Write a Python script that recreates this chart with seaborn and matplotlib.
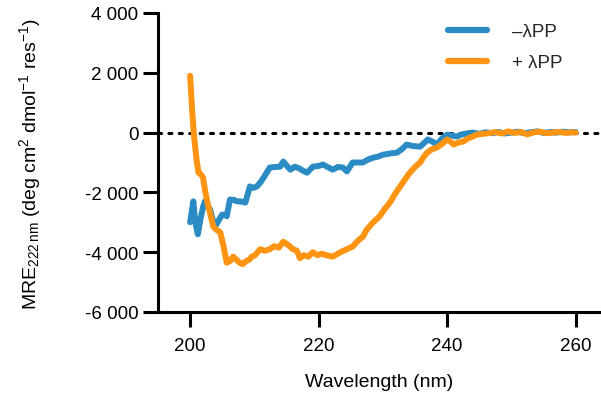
import matplotlib
matplotlib.use("Agg")
import matplotlib.pyplot as plt
import seaborn as sns
import pandas as pd

sns.set_theme(style="ticks")
plt.rcParams['font.family'] = ['Liberation Sans', 'DejaVu Sans']
plt.rcParams['mathtext.default'] = 'regular'

# -λPP (blue)
wl_minus = [200.0, 200.5, 200.8, 201.2, 201.6, 202.0, 202.3, 202.7, 203.1, 203.5, 203.9, 204.4,
            205.0, 205.4, 205.7, 206.2, 206.8, 207.3, 207.8, 208.6, 209.3, 209.8, 210.4, 211.0,
            211.6, 212.4, 213.2, 214.0, 214.5, 215.0, 215.6, 216.3, 217.0, 217.6, 218.2, 219.1,
            219.9, 220.7, 221.4, 222.2, 223.0, 223.8, 224.4, 225.3, 226.1, 226.9, 227.7, 228.5,
            229.3, 230.0, 231.1, 232.2, 233.0, 233.7, 234.7, 235.8, 236.4, 237.0, 237.7, 238.4,
            239.2, 240.0, 240.8, 241.5, 242.3, 243.0, 244.0, 245.0, 246.0, 247.0, 248.0, 249.0,
            250.0, 251.0, 252.0, 253.0, 254.0, 255.0, 256.0, 257.0, 258.0, 259.0, 260.0]
mre_minus = [-3000, -2300, -3000, -3400, -2900, -2500, -2300, -2450, -2570, -2900, -3140, -2950,
             -2740, -2750, -2800, -2240, -2250, -2300, -2300, -2340, -1800, -1850, -1800, -1650,
             -1450, -1170, -1150, -1140, -970, -1100, -1240, -1140, -1200, -1280, -1340, -1140,
             -1120, -1070, -1150, -1240, -1150, -1170, -1300, -1000, -1000, -1000, -900, -840,
             -800, -740, -700, -670, -550, -400, -450, -470, -350, -230, -300, -400,
             -200, -70, -100, -130, -60, -30, 0, -40, 10, -20, 20, -30,
             0, 30, -20, 10, 40, -10, 20, 0, 30, 10, 20]

# +λPP (orange)
wl_plus = [200.0, 200.3, 200.6, 201.0, 201.3, 201.7, 202.0, 202.3, 202.6, 203.0, 203.6, 204.1,
           204.7, 205.2, 205.7, 206.2, 206.7, 207.2, 207.7, 208.2, 208.7, 209.2, 209.6, 210.1,
           210.9, 211.6, 212.4, 213.1, 213.8, 214.5, 215.2, 216.0, 216.6, 217.1, 217.7, 218.4,
           219.1, 219.8, 220.5, 221.2, 222.2, 223.3, 224.4, 225.3, 226.2, 226.9, 227.5, 228.5,
           229.5, 230.3, 231.1, 231.9, 232.7, 233.5, 234.2, 235.0, 235.8, 236.4, 236.9, 237.6,
           238.4, 239.2, 240.0, 240.5, 241.0, 241.8, 242.5, 243.2, 244.0, 244.6, 245.5, 246.5,
           247.5, 248.5, 249.5, 250.5, 251.5, 252.5, 253.5, 254.5, 255.5, 256.5, 257.5, 258.5,
           259.5, 260.0]
mre_plus = [1900, 800, -100, -900, -1340, -1400, -1500, -1900, -2240, -2600, -3140, -3250,
            -3340, -3800, -4350, -4300, -4150, -4250, -4350, -4400, -4300, -4250, -4150, -4100,
            -3900, -3950, -3900, -3800, -3850, -3650, -3750, -3900, -3950, -4200, -4100, -4150,
            -4000, -4100, -4050, -4100, -4150, -4010, -3900, -3810, -3600, -3480, -3240, -3000,
            -2800, -2550, -2340, -2050, -1800, -1550, -1340, -1150, -1000, -800, -670, -560,
            -500, -380, -230, -300, -400, -330, -300, -200, -130, -70, -40, -20,
            20, -30, 40, -10, 20, -60, 10, 30, -20, 0, 20, -10,
            10, 0]

xticks = [200, 220, 240, 260]
yticks = [-6000, -4000, -2000, 0, 2000, 4000]
ytick_labels = ["-6 000", "-4 000", "-2 000", "0", "2 000", "4 000"]

blue = "#2b8bc4"
orange = "#ff9413"

df = pd.concat([
    pd.DataFrame({"wl": wl_minus, "mre": mre_minus, "s": "\u2013\u03bbPP"}),
    pd.DataFrame({"wl": wl_plus, "mre": mre_plus, "s": "+ \u03bbPP"}),
])

fig = plt.figure(figsize=(6.01, 4.02), dpi=100)
ax = fig.add_axes([158/601, 1-313/402, (600-158)/601, (313-14)/402])

ax.axhline(0, color="black", lw=2.2, ls=(0, (1, 2.4)), dash_capstyle="round", zorder=1)
sns.lineplot(data=df, x="wl", y="mre", hue="s", palette=[blue, orange], lw=4.3,
             ax=ax, sort=False, estimator=None, zorder=3)

ax.set_xlim(195.0, 263.8)
ax.set_ylim(-6000, 4000)
ax.set_xticks(xticks)
ax.set_xticklabels([str(v) for v in xticks])
ax.set_yticks(yticks)
ax.set_yticklabels(ytick_labels)

for s in ["top", "right"]:
    ax.spines[s].set_visible(False)
for s in ["left", "bottom"]:
    ax.spines[s].set_linewidth(2.2)
    ax.spines[s].set_color("black")
ax.tick_params(axis="both", length=11, width=2.2, color="black", labelsize=13.5,
               labelcolor="black")
ax.tick_params(axis="x", pad=7)
ax.tick_params(axis="y", pad=3)

ax.set_xlabel("Wavelength (nm)", fontsize=14, labelpad=14, color="black")
ax.set_ylabel("MRE$_{222\\,nm}$ (deg cm$^{2}$ dmol$^{\u22121}$ res$^{\u22121}$)", fontsize=14,
              labelpad=30, color="black")

leg = ax.legend(loc="upper left", frameon=False, fontsize=13.5, handlelength=2.1,
                handletextpad=1.3, labelspacing=0.75, borderpad=0, borderaxespad=0,
                bbox_to_anchor=(448/601, 1-24/402), bbox_transform=fig.transFigure, title=None)
for h in leg.get_lines():
    h.set_linewidth(4.5)
    h.set_solid_capstyle("round")

fig.savefig("out.png", dpi=100, facecolor="white")
